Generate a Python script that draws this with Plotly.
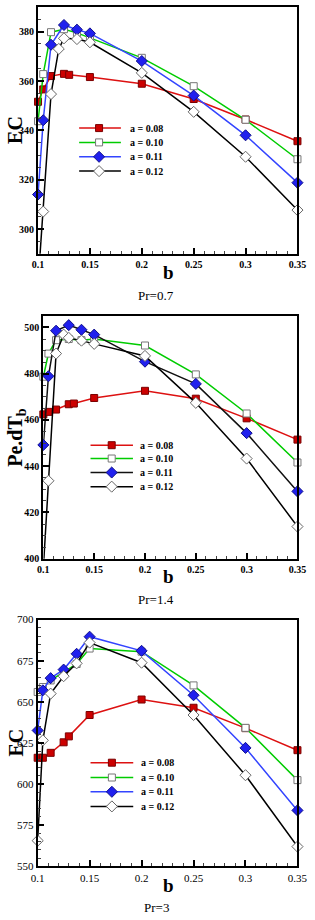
import plotly.graph_objects as go

# ---------------- data ----------------
series_names = ["a = 0.08", "a = 0.10", "a = 0.11", "a = 0.12"]

b_red = [0.1, 0.105, 0.1125, 0.125, 0.13, 0.15, 0.2, 0.25, 0.3, 0.35]
b_std = [0.1, 0.105, 0.1125, 0.125, 0.1375, 0.15, 0.2, 0.25, 0.3, 0.35]
b_blk = [0.1, 0.105, 0.1125, 0.12, 0.125, 0.1375, 0.15, 0.2, 0.25, 0.3, 0.35]

# Pr = 0.7 (EC)
p1_a008 = [351.6, 356.6, 362.0, 362.9, 362.5, 361.6, 358.9, 352.7, 344.4, 335.6]
p1_a010 = [343.7, 362.8, 379.8, 381.0, 379.5, 377.5, 369.4, 357.9, 344.3, 328.3]
p1_a011 = [314.0, 344.1, 374.7, 382.7, 380.8, 379.3, 368.1, 354.1, 338.0, 318.8]
p1_a012 = [278.0, 307.1, 354.7, 373.0, 377.3, 377.0, 375.7, 363.3, 347.5, 329.3, 307.7]

# Pr = 1.4 (Pe.dTb)
p2_a008 = [462.4, 463.5, 464.5, 466.8, 467.1, 469.5, 472.6, 469.2, 460.7, 451.5]
p2_a010 = [478.7, 488.7, 494.5, 495.0, 494.5, 495.0, 492.2, 479.7, 462.8, 441.6]
p2_a011 = [449.2, 478.9, 498.6, 501.0, 499.0, 496.9, 485.2, 475.6, 454.3, 429.1]
p2_a012 = [396.0, 433.7, 488.7, 496.9, 495.5, 494.3, 492.9, 487.7, 467.4, 443.3, 413.9]

# Pr = 3 (EC)
p3_a008 = [616.0, 616.0, 619.0, 625.4, 629.0, 642.0, 651.4, 646.4, 634.0, 620.6]
p3_a010 = [656.0, 659.0, 663.0, 668.0, 673.0, 682.4, 680.5, 660.0, 634.2, 602.4]
p3_a011 = [632.6, 657.0, 664.4, 669.6, 679.2, 689.6, 681.0, 654.0, 622.0, 584.0]
p3_a012 = [565.6, 626.6, 655.0, 665.6, 673.4, 686.0, 673.8, 642.0, 605.4, 562.0]

x_tickvals = [0.1, 0.15, 0.2, 0.25, 0.3, 0.35]
x_ticktext = ["0.1", "0.15", "0.2", "0.25", "0.3", "0.35"]

# ---------------- styling ----------------
FONT = "Liberation Serif, Times New Roman, serif"
W, H = 315, 920

styles = [
    dict(line="#dd1111", sym="square", fill="#cc0000", edge="#7a0000", size=7),
    dict(line="#00cc00", sym="square", fill="#ffffff", edge="#777777", size=7),
    dict(line="#3344ff", sym="diamond", fill="#2020ee", edge="#10108a", size=8.5),
    dict(line="#000000", sym="diamond", fill="#ffffff", edge="#666666", size=8.5),
]

panels = [
    dict(data=[(b_red, p1_a008), (b_std, p1_a010), (b_std, p1_a011), (b_blk, p1_a012)],
         yr=[290, 390], ytv=[300, 320, 340, 360, 380], ydt=5,
         px=(32.7, 306), py=(1, 251), bold=True, ytitle="EC", ytx=9,
         btitle_y=270, pr="Pr=0.7", pr_y=293,
         leg=dict(x0=76, x1=120, xm=97, xt=128, rows=[123.7, 138.2, 152.8, 167.3]),
         blue_line="#3344ff"),
    dict(data=[(b_red, p2_a008), (b_std, p2_a010), (b_std, p2_a011), (b_blk, p2_a012)],
         yr=[400, 505], ytv=[400, 420, 440, 460, 480, 500], ydt=5,
         px=(38.3, 306), py=(314, 560), bold=True, ytitle="Pe.dT<sub>b</sub>", ytx=10,
         btitle_y=578, pr="Pr=1.4", pr_y=601,
         leg=dict(x0=88, x1=132.7, xm=110.3, xt=138, rows=[445, 458.5, 472.7, 487]),
         blue_line="#111111"),
    dict(data=[(b_red, p3_a008), (b_std, p3_a010), (b_std, p3_a011), (b_std, p3_a012)],
         yr=[550, 700], ytv=[550, 575, 600, 625, 650, 675, 700], ydt=5,
         px=(32.3, 306), py=(621.7, 871.7), bold=False, ytitle="EC", ytx=9,
         btitle_y=891, pr="Pr=3", pr_y=913,
         leg=dict(x0=88, x1=133, xm=110.5, xt=139, rows=[766.7, 781.7, 796.2, 811]),
         blue_line="#3344ff"),
]

fig = go.Figure()
layout = dict(width=W, height=H, margin=dict(l=0, r=0, t=0, b=0),
              paper_bgcolor="white", plot_bgcolor="rgba(0,0,0,0)", showlegend=False,
              font=dict(family=FONT, color="black"))
annotations = []

# overlay axes in pixel units, used for the hand-drawn legend glyphs
layout["xaxis4"] = dict(domain=[0, 1], range=[0, W], visible=False, anchor="y4", fixedrange=True)
layout["yaxis4"] = dict(domain=[0, 1], range=[H, 0], visible=False, anchor="x4", fixedrange=True)
legend_traces = []

for i, p in enumerate(panels):
    k = "" if i == 0 else str(i + 1)
    xa, ya = "x" + k, "y" + k
    x0, x1 = p["px"][0] / W, p["px"][1] / W
    y0, y1 = 1 - p["py"][1] / H, 1 - p["py"][0] / H
    tfont = dict(family=FONT, size=10 if p["bold"] else 11, color="black",
                 weight="bold" if p["bold"] else "normal")
    layout["xaxis" + k] = dict(domain=[x0, x1], anchor=ya, range=[0.1, 0.35],
                               tickvals=x_tickvals, ticktext=x_ticktext,
                               ticks="inside", ticklen=6, tickwidth=1.5, tickcolor="black",
                               minor=dict(dtick=0.01, tick0=0.1, ticks="inside", ticklen=3,
                                          tickcolor="#444444", tickwidth=1),
                               showgrid=False, zeroline=False, showline=True, linecolor="black",
                               linewidth=2, mirror=True, tickfont=tfont, fixedrange=True)
    layout["yaxis" + k] = dict(domain=[y0, y1], anchor=xa, range=p["yr"],
                               tickvals=p["ytv"], ticks="inside", ticklen=6, tickwidth=1.5,
                               tickcolor="black",
                               minor=dict(dtick=p["ydt"], ticks="inside", ticklen=3,
                                          tickcolor="#444444", tickwidth=1),
                               showgrid=False, zeroline=False, showline=True, linecolor="black",
                               linewidth=2, mirror=True, tickfont=tfont, fixedrange=True)

    lg = p["leg"]
    for j, (bx, vy) in enumerate(p["data"]):
        st = styles[j]
        lc = p["blue_line"] if j == 2 else st["line"]
        marker = dict(symbol=st["sym"], size=st["size"], color=st["fill"],
                      line=dict(color=st["edge"], width=1))
        fig.add_trace(go.Scatter(x=bx, y=vy, mode="lines", xaxis=xa, yaxis=ya,
                                 line=dict(color=lc, width=1.5), hoverinfo="skip"))
        lo, hi = p["yr"]
        mx = [b for b, v in zip(bx, vy) if lo <= v <= hi]
        my = [v for v in vy if lo <= v <= hi]
        fig.add_trace(go.Scatter(x=mx, y=my, mode="markers", xaxis=xa, yaxis=ya,
                                 marker=marker, cliponaxis=False, name=series_names[j]))
        # legend glyph
        ry = lg["rows"][j]
        legend_traces.append(go.Scatter(x=[lg["x0"], lg["x1"]], y=[ry, ry], mode="lines",
                                        xaxis="x4", yaxis="y4", line=dict(color=lc, width=1.5),
                                        hoverinfo="skip"))
        legend_traces.append(go.Scatter(x=[lg["xm"]], y=[ry], mode="markers",
                                        xaxis="x4", yaxis="y4", marker=marker,
                                        cliponaxis=False, hoverinfo="skip"))
        annotations.append(dict(text="<b>" + series_names[j] + "</b>", x=lg["xt"] / W,
                                y=1 - ry / H, xref="paper", yref="paper", showarrow=False,
                                xanchor="left", yanchor="middle",
                                font=dict(family=FONT, size=10, color="black")))

    ymid = 1 - (p["py"][0] + p["py"][1]) / 2 / H
    annotations.append(dict(text="<b>" + p["ytitle"] + "</b>", x=p["ytx"] / W, y=ymid,
                            xref="paper", yref="paper", textangle=-90, showarrow=False,
                            xanchor="center", yanchor="middle",
                            font=dict(family=FONT, size=20, color="black")))
    annotations.append(dict(text="<b>b</b>", x=170 / W, y=1 - p["btitle_y"] / H,
                            xref="paper", yref="paper", showarrow=False,
                            xanchor="center", yanchor="middle",
                            font=dict(family=FONT, size=19, color="black")))
    annotations.append(dict(text=p["pr"], x=157 / W, y=1 - p["pr_y"] / H,
                            xref="paper", yref="paper", showarrow=False,
                            xanchor="center", yanchor="middle",
                            font=dict(family=FONT, size=13, color="black")))

for t in legend_traces:
    fig.add_trace(t)

layout["annotations"] = annotations
fig.update_layout(**layout)
fig.write_html("out.html", config={"displayModeBar": False},
               post_script="document.body.style.margin='0';document.body.style.overflow='hidden';")
